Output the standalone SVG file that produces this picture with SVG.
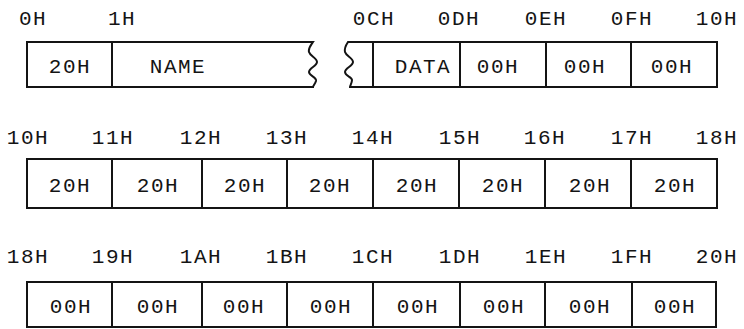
<svg xmlns="http://www.w3.org/2000/svg" width="744" height="329" viewBox="0 0 744 329">
  <style>
    .cell { fill: none; stroke: #141414; stroke-width: 2; stroke-linejoin: miter; }
    .txt { font-family: "Liberation Mono", "DejaVu Sans Mono", monospace; font-size: 21px; fill: #141414; letter-spacing: 1.5px; text-anchor: middle; }
    .lbl { font-family: "Liberation Mono", "DejaVu Sans Mono", monospace; font-size: 21px; fill: #141414; letter-spacing: 1.5px; text-anchor: middle; }
  </style>
  <rect width="744" height="329" fill="#ffffff"/>

  <!-- Row 1: directory entry bytes 00H-10H -->
  <g id="row1-labels">
    <text class="lbl" x="33" y="25">0H</text>
    <text class="lbl" x="122" y="25">1H</text>
    <text class="lbl" x="374" y="25">0CH</text>
    <text class="lbl" x="459" y="25">0DH</text>
    <text class="lbl" x="546" y="25">0EH</text>
    <text class="lbl" x="632" y="25">0FH</text>
    <text class="lbl" x="717" y="25">10H</text>
  </g>
  <g id="r1-c0">
    <rect class="cell" x="27" y="42" width="85" height="45"/>
    <text class="txt" x="70" y="73">20H</text>
  </g>
  <g id="r1-name">
    <path class="cell" d="M112,42 H313 C311,45 308,48 309,52 C310,56 317,58 317,62 C317,66 309,68 309,72 C309,76 317,77 316,81 C315,84 313,86 313,87 H112"/>
    <path class="cell" d="M373,42 H348 C346,45 344,48 345,52 C346,56 353,58 353,62 C353,66 345,68 345,72 C345,76 352,77 352,80 C352,83 350,86 350,87 H373"/>
    <text class="txt" x="178" y="73">NAME</text>
  </g>
  <g id="r1-data">
    <rect class="cell" x="373" y="42" width="87" height="45"/>
    <text class="txt" x="423" y="73">DATA</text>
  </g>
  <g id="r1-c13">
    <rect class="cell" x="460" y="42" width="86" height="45"/>
    <text class="txt" x="498" y="73">00H</text>
  </g>
  <g id="r1-c14">
    <rect class="cell" x="546" y="42" width="85" height="45"/>
    <text class="txt" x="585" y="73">00H</text>
  </g>
  <g id="r1-c15">
    <rect class="cell" x="631" y="42" width="86" height="45"/>
    <text class="txt" x="672" y="73">00H</text>
  </g>

  <!-- Row 2: bytes 10H-18H -->
  <g id="row2-labels">
    <text class="lbl" x="28" y="144">10H</text>
    <text class="lbl" x="113" y="144">11H</text>
    <text class="lbl" x="201" y="144">12H</text>
    <text class="lbl" x="287" y="144">13H</text>
    <text class="lbl" x="373" y="144">14H</text>
    <text class="lbl" x="460" y="144">15H</text>
    <text class="lbl" x="545" y="144">16H</text>
    <text class="lbl" x="632" y="144">17H</text>
    <text class="lbl" x="717" y="144">18H</text>
  </g>
  <g id="r2-c0"><rect class="cell" x="27" y="159" width="85" height="49"/><text class="txt" x="70" y="192">20H</text></g>
  <g id="r2-c1"><rect class="cell" x="112" y="159" width="90" height="49"/><text class="txt" x="158" y="192">20H</text></g>
  <g id="r2-c2"><rect class="cell" x="202" y="159" width="85" height="49"/><text class="txt" x="245" y="192">20H</text></g>
  <g id="r2-c3"><rect class="cell" x="287" y="159" width="86" height="49"/><text class="txt" x="330" y="192">20H</text></g>
  <g id="r2-c4"><rect class="cell" x="373" y="159" width="86" height="49"/><text class="txt" x="417" y="192">20H</text></g>
  <g id="r2-c5"><rect class="cell" x="459" y="159" width="86" height="49"/><text class="txt" x="503" y="192">20H</text></g>
  <g id="r2-c6"><rect class="cell" x="545" y="159" width="86" height="49"/><text class="txt" x="590" y="192">20H</text></g>
  <g id="r2-c7"><rect class="cell" x="631" y="159" width="86" height="49"/><text class="txt" x="675" y="192">20H</text></g>

  <!-- Row 3: bytes 18H-20H -->
  <g id="row3-labels">
    <text class="lbl" x="28" y="263">18H</text>
    <text class="lbl" x="113" y="263">19H</text>
    <text class="lbl" x="201" y="263">1AH</text>
    <text class="lbl" x="287" y="263">1BH</text>
    <text class="lbl" x="373" y="263">1CH</text>
    <text class="lbl" x="460" y="263">1DH</text>
    <text class="lbl" x="546" y="263">1EH</text>
    <text class="lbl" x="632" y="263">1FH</text>
    <text class="lbl" x="717" y="263">20H</text>
  </g>
  <g id="r3-c0"><rect class="cell" x="27" y="282" width="85" height="45"/><text class="txt" x="71" y="313">00H</text></g>
  <g id="r3-c1"><rect class="cell" x="112" y="282" width="90" height="45"/><text class="txt" x="158" y="313">00H</text></g>
  <g id="r3-c2"><rect class="cell" x="202" y="282" width="85" height="45"/><text class="txt" x="244" y="313">00H</text></g>
  <g id="r3-c3"><rect class="cell" x="287" y="282" width="86" height="45"/><text class="txt" x="331" y="313">00H</text></g>
  <g id="r3-c4"><rect class="cell" x="373" y="282" width="87" height="45"/><text class="txt" x="418" y="313">00H</text></g>
  <g id="r3-c5"><rect class="cell" x="460" y="282" width="85" height="45"/><text class="txt" x="504" y="313">00H</text></g>
  <g id="r3-c6"><rect class="cell" x="545" y="282" width="87" height="45"/><text class="txt" x="590" y="313">00H</text></g>
  <g id="r3-c7"><rect class="cell" x="632" y="282" width="84" height="45"/><text class="txt" x="675" y="313">00H</text></g>

  <!-- no connectors in this layout -->
  <g id="connectors"/>
</svg>
